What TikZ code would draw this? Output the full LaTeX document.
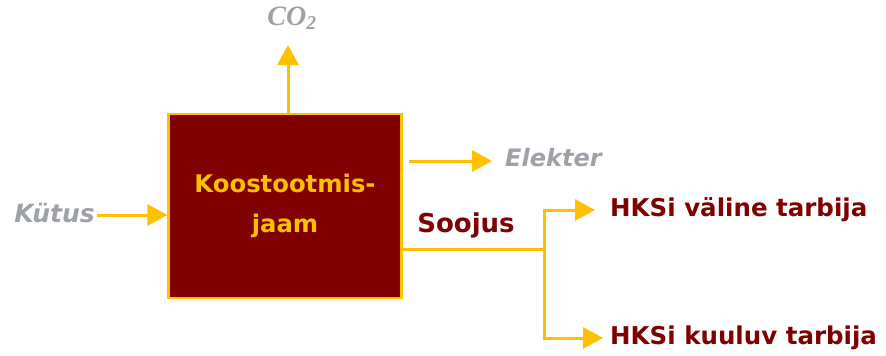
\documentclass[tikz,border=0pt]{standalone}
\usepackage{fontspec}
\setmainfont{DejaVu Sans}
\newfontfamily\cofont{Liberation Serif}
\usetikzlibrary{arrows.meta}
\definecolor{plantred}{RGB}{128,0,0}
\definecolor{flowyellow}{RGB}{255,192,0}
\definecolor{lossgray}{RGB}{158,162,168}
\tikzset{
  flow/.style={draw=flowyellow, line width=3pt, -{Triangle[length=20pt,width=21pt]}},
  flowline/.style={draw=flowyellow, line width=3pt},
  lossnode/.style={text=lossgray, font=\fontsize{25}{29}\selectfont\bfseries\itshape, inner sep=0pt},
  usernode/.style={text=plantred, font=\fontsize{24.5}{28}\selectfont\bfseries, inner sep=0pt, anchor=west}
}

\begin{document}
\begin{tikzpicture}[x=1pt,y=-1pt]
		%%%%% START %%%%%
		\useasboundingbox (0,0) rectangle (886,356);
		
		% koostootmisjaam
		\node[draw=flowyellow, line width=2.2pt, fill=plantred, minimum width=233pt, minimum height=184pt,
		      text=flowyellow, align=center, font=\fontsize{24.3}{40}\selectfont\bfseries] (plant) at (285,206) {Koostootmis-\\jaam};
		
		% sisend ja kaod
		\node[lossnode, anchor=east] (fuel) at (95,213) {Kütus};
		\node[lossnode, anchor=west, font=\fontsize{24}{28}\selectfont\bfseries\itshape] (power) at (505,158) {Elekter};
		\node[text=lossgray, inner sep=0pt, font=\fontsize{28}{32}\selectfont\cofont\bfseries\itshape] (co2) at (292,18) {CO\textsubscript{2}};
		
		\draw[flow] (fuel.east) ++(2pt,-2pt) coordinate (fuelout) -- (plant.west |- fuelout);
		\draw[flow, shorten >=2pt] (plant.north -| 288,0) coordinate (co2in) -- (co2in |- 0,43);
		\draw[flow, shorten >=13pt] (plant.east |- 0,161) ++(6pt,0) coordinate (powerout) -- (power.west |- powerout);
		
		% soojus ja tarbijad
		\coordinate (split) at (544,249);
		\node[usernode] (outer) at (610,210) {HKSi väline tarbija};
		\node[usernode] (inner) at (610,338) {HKSi kuuluv tarbija};
		\node[text=plantred, inner sep=0pt, font=\fontsize{26}{30}\selectfont\bfseries] (heat) at (466,225) {Soojus};
		
		\draw[flowline] (plant.east |- split) -- (split);
		\draw[flow, shorten >=15pt] (split) |- (outer.west);
		\draw[flow, shorten >=7pt] (split) |- (inner.west);
		%%%%% END %%%%%
	\end{tikzpicture}
\end{document}
